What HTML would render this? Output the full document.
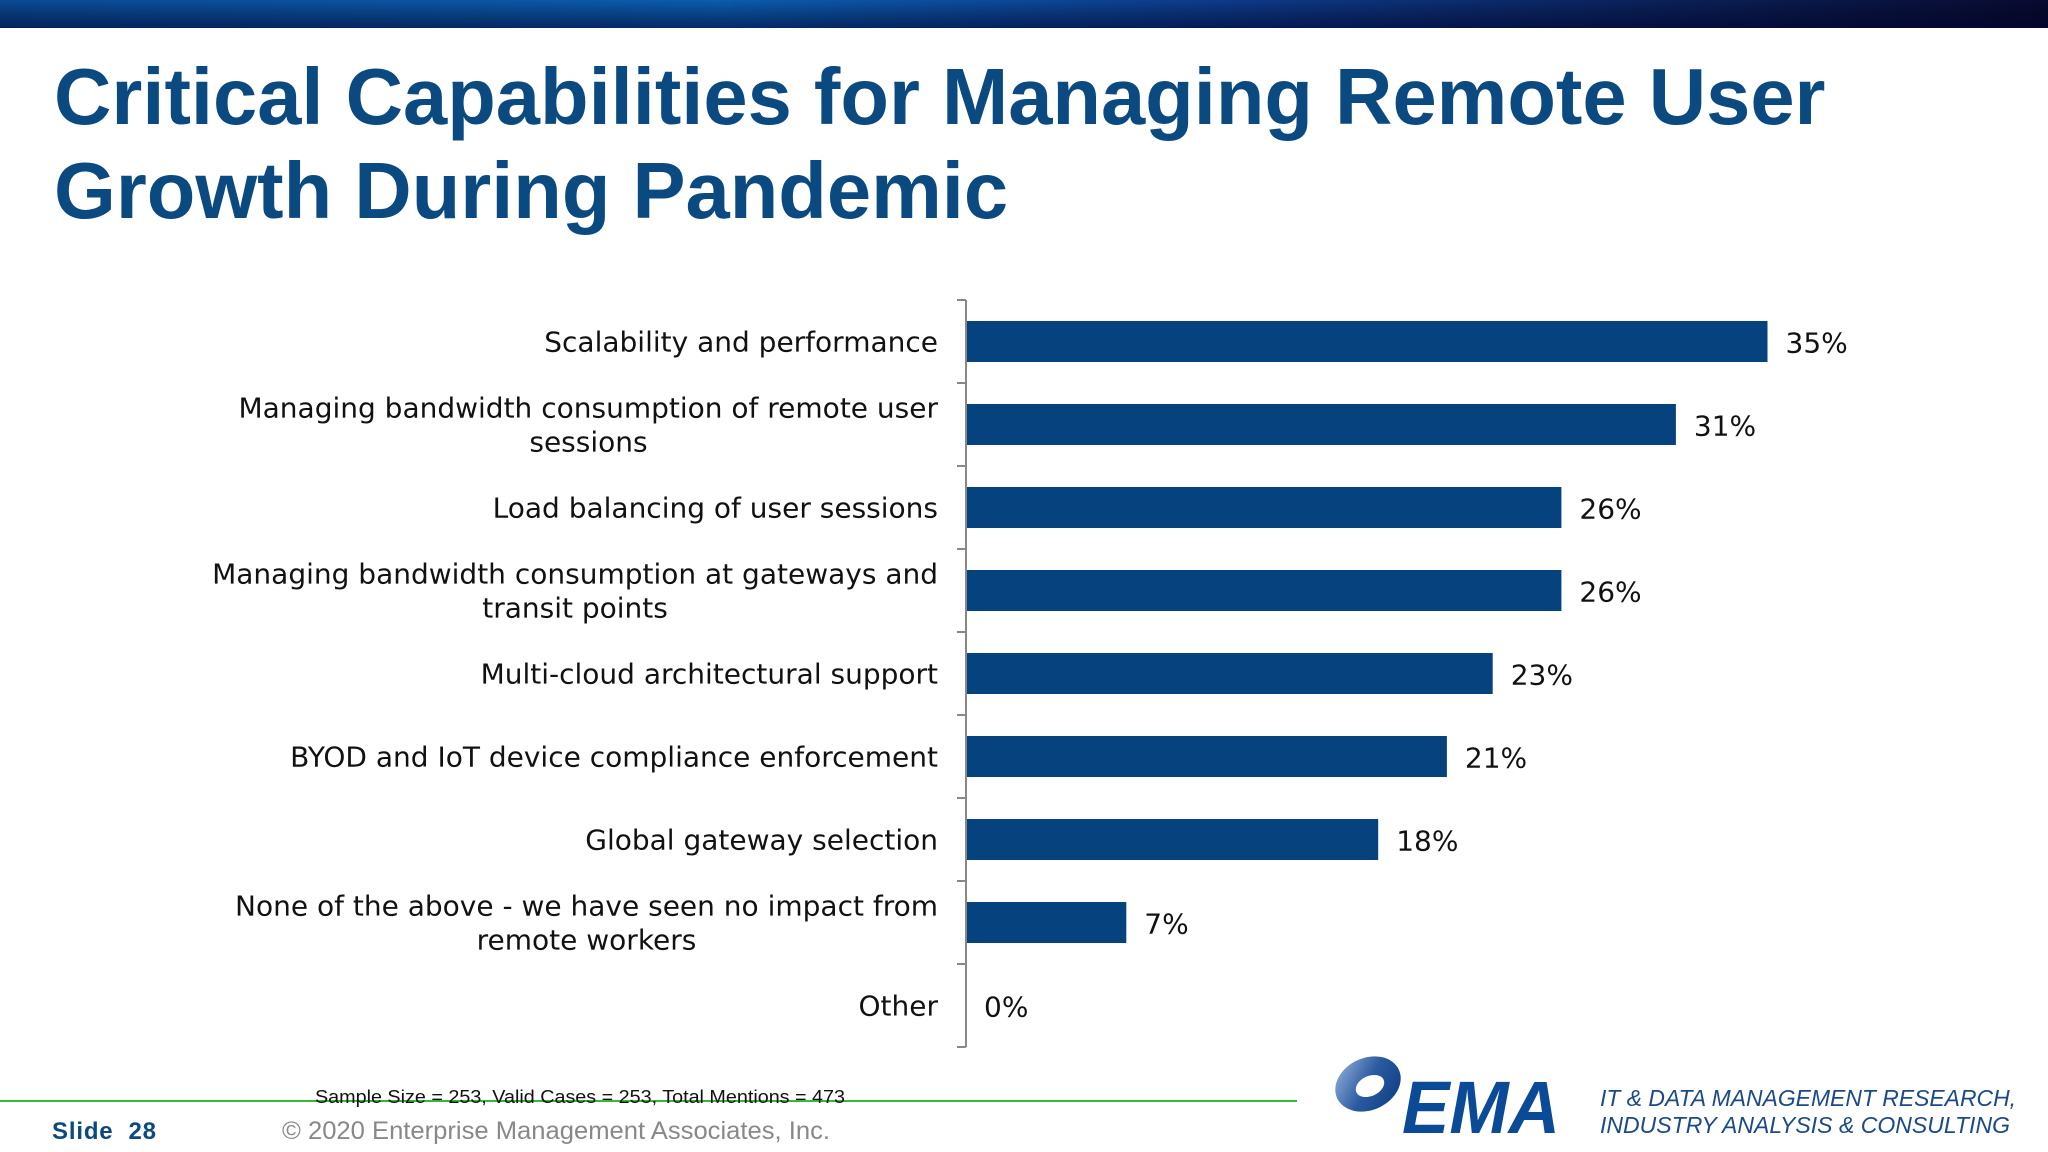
<!DOCTYPE html>
<html><head><meta charset="utf-8"><style>
html,body{margin:0;padding:0;background:#fff;}
svg{display:block;}
</style></head><body>
<svg width="2048" height="1152" viewBox="0 0 2048 1152" xmlns="http://www.w3.org/2000/svg">
<defs>
<linearGradient id="hg" x1="0" y1="0" x2="1" y2="0">
<stop offset="0" stop-color="#0a4a96"/><stop offset="0.35" stop-color="#0b5cb0"/><stop offset="0.6" stop-color="#0d3a8a"/><stop offset="1" stop-color="#080a30"/>
</linearGradient>
<linearGradient id="hv" x1="0" y1="0" x2="0" y2="1">
<stop offset="0" stop-color="#000" stop-opacity="0"/><stop offset="1" stop-color="#000030" stop-opacity="0.55"/>
</linearGradient>
<linearGradient id="lg" x1="0" y1="0" x2="1" y2="1">
<stop offset="0" stop-color="#9cb8e0"/><stop offset="0.5" stop-color="#2a5aa0"/><stop offset="1" stop-color="#0a3a80"/>
</linearGradient>
</defs>
<rect x="0" y="0" width="2048" height="28" fill="url(#hg)"/>
<rect x="0" y="0" width="2048" height="28" fill="url(#hv)"/>
<g font-family="Liberation Sans, sans-serif" font-weight="bold" font-size="79.5" fill="#0a4a80">
<text x="54" y="124">Critical Capabilities for Managing Remote User</text>
<text x="54" y="218">Growth During Pandemic</text>
</g>
<g id="chart"></g>
<line x1="0" y1="1101" x2="1297" y2="1101" stroke="#33bb33" stroke-width="2"/>
<text x="315" y="1103" font-family="Liberation Sans Narrow, Liberation Sans, sans-serif" font-size="18" fill="#111" textLength="530" lengthAdjust="spacingAndGlyphs">Sample Size = 253, Valid Cases = 253, Total Mentions = 473</text>
<text x="52" y="1139" font-family="Liberation Sans, sans-serif" font-weight="bold" font-size="24" fill="#0a4a80" xml:space="preserve" textLength="104" lengthAdjust="spacing">Slide  28</text>
<text x="282" y="1139" font-family="Liberation Sans, sans-serif" font-size="25" fill="#888" textLength="548" lengthAdjust="spacingAndGlyphs">© 2020 Enterprise Management Associates, Inc.</text>
<g>
<ellipse cx="1368" cy="1084" rx="34" ry="26" fill="url(#lg)" transform="rotate(-25 1368 1084)"/>
<ellipse cx="1370" cy="1086" rx="15" ry="10" fill="#fff" transform="rotate(-25 1370 1086)"/>
<text x="1402" y="1133" font-family="Liberation Sans, sans-serif" font-weight="bold" font-style="italic" font-size="74" fill="#0a4a96" textLength="158" lengthAdjust="spacingAndGlyphs">EMA</text>
</g>
<g font-family="Liberation Sans, sans-serif" font-style="italic" font-size="23" fill="#1a4a8a">
<text x="1600" y="1106" textLength="416" lengthAdjust="spacingAndGlyphs">IT &amp; DATA MANAGEMENT RESEARCH,</text>
<text x="1600" y="1133" textLength="410" lengthAdjust="spacingAndGlyphs">INDUSTRY ANALYSIS &amp; CONSULTING</text>
</g>
</svg>
<script>
const categories = [
 ["Scalability and performance"],
 ["Managing bandwidth consumption of remote user","sessions"],
 ["Load balancing of user sessions"],
 ["Managing bandwidth consumption at gateways and","transit points"],
 ["Multi-cloud architectural support"],
 ["BYOD and IoT device compliance enforcement"],
 ["Global gateway selection"],
 ["None of the above - we have seen no impact from","remote workers"],
 ["Other"]
];
const values = [35,31,26,26,23,21,18,7,0];
const valueLabels = ["35%","31%","26%","26%","23%","21%","18%","7%","0%"];

const NS="http://www.w3.org/2000/svg";
const chartG=document.getElementById('chart');
const x0=966, pxPer=22.9, yTop=300, band=83, barH=41;
function xs(v){return x0+v*pxPer;}
function yb(i){return yTop+i*band;}
function mk(t,a){const e=document.createElementNS(NS,t);for(const k in a)e.setAttribute(k,a[k]);chartG.appendChild(e);return e;}
const ax=mk('line',{x1:x0,y1:yTop,x2:x0,y2:yTop+band*categories.length,stroke:'#888','stroke-width':2});


for(let i=0;i<=categories.length;i++){
 const t=mk('line',{x1:x0-9,y1:yb(i),x2:x0,y2:yb(i),stroke:'#888','stroke-width':2});
 
 
}
values.forEach((v,i)=>{
 const cy=yb(i)+band/2;
 if(v>0){
  const r=mk('rect',{x:x0+1,y:cy-barH/2,width:xs(v)-x0-1,height:barH,fill:'#06427e'});
  
  
 }
 const t=mk('text',{x:xs(v)+18,y:cy+11,'font-family':'DejaVu Sans, sans-serif','font-size':28,fill:'#111'});
 t.textContent=valueLabels[i];
 
 
 const lines=categories[i];
 const lh=34;
 let first=null;
 lines.forEach((s,j)=>{
  const yy=cy+10-(lines.length-1)*lh/2+j*lh;
  const l=mk('text',{x:938,y:yy,'text-anchor':j>0?'middle':'end','font-family':'DejaVu Sans, sans-serif','font-size':28,fill:'#111'});
  l.textContent=s;
  
  
  if(j===0){first=l;}else{
   try{const bb=first.getBBox();l.setAttribute('x',bb.x+bb.width/2);}catch(e){l.setAttribute('x',584);}
  }
 });
});
</script>
</body></html>
